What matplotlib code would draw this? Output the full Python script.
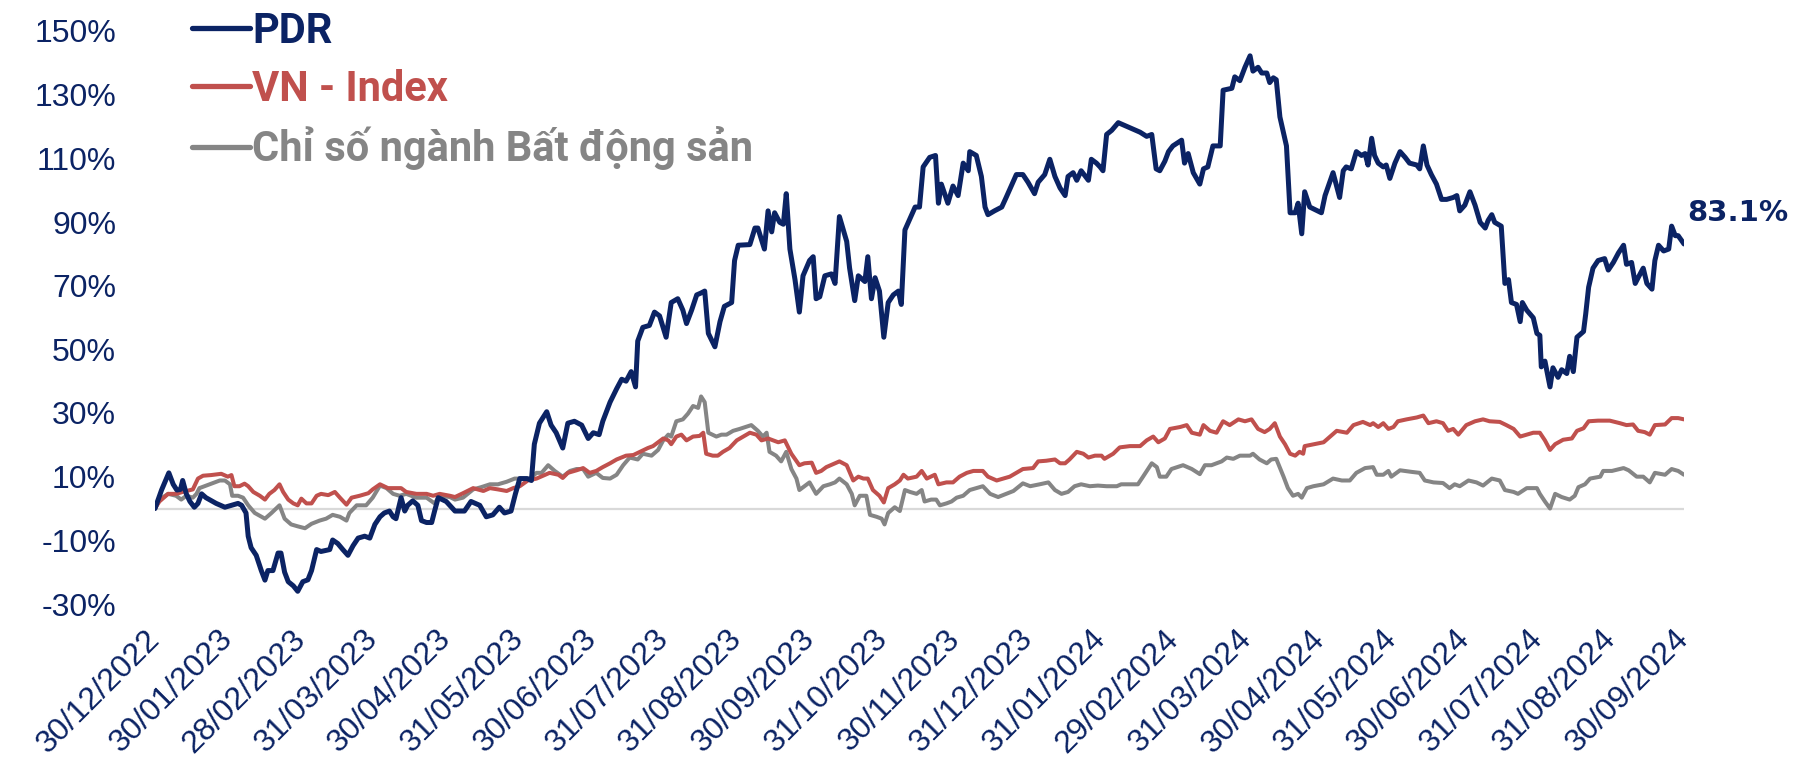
import matplotlib
matplotlib.use("Agg")
import matplotlib.pyplot as plt
from matplotlib.ticker import FixedLocator, FixedFormatter

plt.rcParams.update({
    "font.family": ["Liberation Sans", "DejaVu Sans"],
    "figure.dpi": 100,
})

# x = months elapsed since 30/12/2022, y = cumulative return (%)
month_labels = [
    "30/12/2022", "30/01/2023", "28/02/2023", "31/03/2023", "30/04/2023",
    "31/05/2023", "30/06/2023", "31/07/2023", "31/08/2023", "30/09/2023",
    "31/10/2023", "30/11/2023", "31/12/2023", "31/01/2024", "29/02/2024",
    "31/03/2024", "30/04/2024", "31/05/2024", "30/06/2024", "31/07/2024",
    "31/08/2024", "30/09/2024",
]
y_ticks = [-30, -10, 10, 30, 50, 70, 90, 110, 130, 150]

pdr_x = [
    0.00, 0.09, 0.19, 0.25, 0.30, 0.35, 0.38, 0.43, 0.48, 0.54, 0.59, 0.64, 0.70, 0.84, 0.96,
    1.05, 1.14, 1.19, 1.25, 1.28, 1.32, 1.39, 1.46, 1.51, 1.55, 1.62, 1.69, 1.73, 1.78, 1.83,
    1.90, 1.96, 2.03, 2.10, 2.15, 2.22, 2.28, 2.40, 2.44, 2.51, 2.58, 2.65, 2.72, 2.79, 2.88,
    2.95, 3.02, 3.09, 3.15, 3.22, 3.27, 3.31, 3.38, 3.43, 3.47, 3.54, 3.61, 3.66, 3.73, 3.80,
    3.84, 3.89, 4.00, 4.12, 4.25, 4.34, 4.46, 4.55, 4.64, 4.73, 4.80, 4.89, 4.95, 5.01, 5.11,
    5.17, 5.21, 5.28, 5.38, 5.44, 5.51, 5.60, 5.67, 5.76, 5.86, 5.95, 6.02, 6.10, 6.15, 6.25,
    6.34, 6.41, 6.47, 6.54, 6.60, 6.63, 6.70, 6.79, 6.86, 6.93, 7.02, 7.09, 7.18, 7.25, 7.30,
    7.37, 7.44, 7.50, 7.55, 7.60, 7.69, 7.76, 7.82, 7.92, 7.96, 8.01, 8.17, 8.24, 8.28, 8.37,
    8.42, 8.47, 8.51, 8.58, 8.63, 8.67, 8.72, 8.79, 8.85, 8.90, 8.99, 9.04, 9.08, 9.13, 9.20,
    9.29, 9.34, 9.40, 9.50, 9.54, 9.61, 9.66, 9.75, 9.79, 9.84, 9.89, 9.95, 10.01, 10.07, 10.14,
    10.21, 10.25, 10.30, 10.37, 10.44, 10.50, 10.55, 10.64, 10.72, 10.76, 10.80, 10.89, 10.96, 11.03, 11.10,
    11.17, 11.19, 11.28, 11.35, 11.40, 11.44, 11.53, 11.63, 11.69, 11.76, 11.83, 11.92, 11.99, 12.08, 12.13,
    12.22, 12.29, 12.36, 12.43, 12.50, 12.54, 12.61, 12.66, 12.72, 12.82, 12.86, 12.93, 12.98, 13.02, 13.07,
    13.14, 13.23, 13.53, 13.62, 13.69, 13.75, 13.80, 13.87, 13.92, 13.98, 14.10, 14.14, 14.19, 14.26, 14.35,
    14.40, 14.46, 14.53, 14.63, 14.67, 14.79, 14.83, 14.90, 14.97, 15.04, 15.08, 15.15, 15.20, 15.27, 15.31,
    15.36, 15.40, 15.45, 15.54, 15.59, 15.66, 15.70, 15.75, 15.79, 15.86, 16.02, 16.07, 16.18, 16.27, 16.32,
    16.36, 16.43, 16.50, 16.57, 16.62, 16.66, 16.71, 16.75, 16.80, 16.87, 16.91, 16.96, 17.03, 17.10, 17.17,
    17.23, 17.33, 17.37, 17.42, 17.47, 17.53, 17.60, 17.67, 17.74, 17.83, 17.88, 17.92, 17.99, 18.06, 18.13,
    18.20, 18.27, 18.31, 18.36, 18.40, 18.49, 18.54, 18.59, 18.63, 18.70, 18.75, 18.78, 18.84, 18.93, 18.98,
    19.02, 19.04, 19.09, 19.16, 19.20, 19.27, 19.32, 19.39, 19.43, 19.48, 19.53, 19.62, 19.65, 19.69, 19.75,
    19.82, 19.91, 19.96, 20.03, 20.10, 20.17, 20.21, 20.28, 20.33, 20.37, 20.44, 20.49, 20.56, 20.60, 20.65,
    20.72, 20.79, 20.83, 20.88, 20.92, 21.00,
]
pdr_y = [
    0.0, 5.8, 11.2, 7.6, 5.8, 6.0, 8.8, 4.6, 2.2, 0.4, 1.6, 4.6, 3.4, 1.6, 0.4,
    1.0, 1.6, 1.0, -1.4, -8.7, -12.3, -14.7, -19.5, -22.5, -19.5, -19.5, -14.0, -14.0, -20.0, -23.0,
    -24.3, -26.0, -23.0, -22.4, -19.5, -12.9, -13.5, -12.9, -9.9, -11.0, -12.9, -14.7, -11.7, -9.3, -8.7,
    -9.3, -5.0, -2.6, -1.4, -0.8, -2.6, -3.2, 3.4, -0.8, 1.0, 2.4, 1.0, -3.8, -4.4, -4.4,
    -0.8, 3.4, 2.2, -0.8, -0.8, 2.2, 1.0, -2.6, -2.0, 0.4, -1.4, -0.8, 4.6, 9.4, 9.4,
    8.8, 20.2, 26.8, 30.4, 26.2, 23.8, 19.0, 26.8, 27.4, 26.2, 22.0, 23.8, 23.2, 27.4, 33.4,
    37.6, 40.6, 40.0, 43.0, 38.2, 52.6, 56.9, 57.5, 61.7, 60.5, 53.8, 64.7, 65.9, 62.3, 58.1,
    62.3, 67.1, 67.7, 68.3, 55.0, 50.8, 58.7, 63.5, 64.7, 77.9, 82.7, 82.9, 88.1, 88.1, 81.5,
    93.5, 86.9, 92.9, 89.9, 89.3, 98.9, 81.5, 71.9, 61.7, 73.1, 77.9, 79.1, 65.9, 66.5, 73.1,
    73.7, 70.7, 91.7, 83.9, 75.5, 65.3, 73.1, 71.3, 79.1, 65.9, 72.5, 68.3, 53.8, 64.7, 67.1,
    68.3, 64.1, 87.5, 91.1, 94.7, 94.7, 107.3, 110.3, 110.9, 95.9, 101.9, 95.9, 101.3, 98.3, 108.5,
    106.1, 112.1, 110.9, 104.3, 94.7, 92.3, 93.5, 94.7, 97.7, 101.3, 104.9, 104.9, 102.5, 98.9, 102.5,
    104.9, 109.7, 104.3, 100.7, 98.3, 104.3, 105.5, 103.1, 106.1, 103.1, 109.7, 108.5, 107.3, 106.1, 117.5,
    118.8, 121.2, 118.2, 116.9, 117.5, 106.7, 106.1, 109.1, 112.1, 113.9, 115.7, 108.5, 111.5, 105.5, 101.9,
    106.7, 107.3, 113.9, 113.9, 131.4, 132.0, 135.6, 134.4, 138.6, 142.2, 137.4, 138.6, 136.8, 136.8, 133.8,
    135.3, 134.7, 123.0, 113.9, 92.9, 92.9, 95.9, 86.3, 99.5, 94.7, 92.9, 98.3, 105.5, 97.7, 106.1,
    107.3, 106.7, 112.1, 110.9, 111.5, 107.9, 116.3, 110.9, 108.5, 107.3, 107.9, 103.7, 108.5, 112.1, 110.3,
    108.5, 107.9, 106.7, 113.9, 107.9, 104.9, 101.9, 97.1, 97.1, 97.7, 98.3, 93.5, 95.3, 99.5, 95.3,
    89.9, 88.1, 90.5, 92.3, 89.9, 88.7, 70.7, 71.9, 64.7, 64.1, 58.7, 64.7, 62.3, 59.9, 55.0,
    54.4, 44.5, 46.3, 38.2, 44.2, 41.2, 43.6, 42.4, 47.8, 43.0, 53.8, 55.6, 61.1, 69.5, 75.5,
    77.9, 78.5, 74.9, 77.3, 80.3, 82.7, 76.7, 77.3, 70.7, 72.5, 75.5, 70.7, 68.9, 77.9, 82.7,
    80.9, 81.5, 88.7, 85.7, 85.7, 83.1,
]

vni_x = [
    0.00, 0.06, 0.18, 0.29, 0.38, 0.52, 0.59, 0.66, 0.77, 0.91, 1.00, 1.05, 1.09, 1.16, 1.23,
    1.28, 1.35, 1.44, 1.51, 1.57, 1.64, 1.71, 1.76, 1.83, 1.90, 1.96, 2.01, 2.08, 2.15, 2.22,
    2.28, 2.38, 2.47, 2.54, 2.63, 2.70, 2.81, 2.93, 2.99, 3.09, 3.20, 3.29, 3.38, 3.45, 3.59,
    3.73, 3.82, 3.91, 4.05, 4.12, 4.23, 4.37, 4.51, 4.60, 4.71, 4.83, 4.92, 5.01, 5.12, 5.24,
    5.33, 5.42, 5.54, 5.60, 5.67, 5.79, 5.88, 5.97, 6.06, 6.15, 6.25, 6.34, 6.47, 6.57, 6.66,
    6.77, 6.84, 6.91, 6.98, 7.05, 7.09, 7.16, 7.23, 7.30, 7.39, 7.48, 7.53, 7.57, 7.66, 7.73,
    7.80, 7.89, 7.99, 8.17, 8.26, 8.33, 8.42, 8.49, 8.56, 8.65, 8.74, 8.85, 8.92, 9.02, 9.08,
    9.15, 9.22, 9.34, 9.40, 9.50, 9.59, 9.66, 9.73, 9.79, 9.86, 9.95, 10.01, 10.07, 10.16, 10.23,
    10.28, 10.34, 10.46, 10.53, 10.60, 10.71, 10.76, 10.87, 10.96, 11.05, 11.15, 11.24, 11.37, 11.44, 11.56,
    11.65, 11.74, 11.83, 11.92, 12.06, 12.13, 12.24, 12.36, 12.43, 12.50, 12.56, 12.66, 12.75, 12.82, 12.91,
    13.00, 13.04, 13.16, 13.25, 13.39, 13.53, 13.62, 13.71, 13.78, 13.87, 13.94, 14.08, 14.17, 14.24, 14.35,
    14.40, 14.49, 14.58, 14.67, 14.76, 14.88, 14.97, 15.06, 15.15, 15.24, 15.31, 15.38, 15.45, 15.52, 15.59,
    15.66, 15.72, 15.77, 15.79, 16.05, 16.14, 16.23, 16.37, 16.46, 16.59, 16.69, 16.73, 16.80, 16.87, 16.94,
    17.01, 17.07, 17.19, 17.33, 17.42, 17.49, 17.60, 17.69, 17.76, 17.83, 17.90, 18.01, 18.13, 18.24, 18.33,
    18.47, 18.56, 18.66, 18.75, 18.84, 18.93, 19.02, 19.09, 19.16, 19.23, 19.34, 19.46, 19.53, 19.62, 19.69,
    19.82, 19.98, 20.12, 20.21, 20.30, 20.37, 20.46, 20.53, 20.60, 20.74, 20.83, 20.92, 21.00,
]
vni_y = [
    0.0, 2.2, 4.6, 4.6, 5.2, 6.0, 9.4, 10.3, 10.5, 10.9, 10.0, 10.5, 7.0, 7.0, 7.8,
    7.0, 5.2, 4.0, 2.8, 4.6, 5.8, 7.6, 5.2, 2.8, 1.6, 1.0, 3.1, 1.6, 1.6, 4.0,
    4.6, 4.2, 5.2, 3.4, 1.2, 3.4, 4.0, 4.8, 6.0, 7.6, 6.4, 6.4, 6.4, 5.2, 4.6,
    4.6, 4.0, 4.6, 4.0, 3.6, 4.8, 6.4, 5.5, 6.4, 6.0, 5.5, 6.4, 7.0, 8.8, 9.4,
    10.3, 11.2, 10.6, 9.6, 11.2, 12.0, 12.7, 11.2, 11.8, 13.0, 14.2, 15.4, 16.6, 16.8, 17.8,
    19.0, 19.6, 20.8, 22.0, 21.4, 20.2, 22.6, 23.2, 21.4, 22.6, 22.8, 23.8, 17.2, 16.6, 16.6,
    17.8, 19.0, 21.4, 23.8, 23.2, 21.4, 22.0, 21.4, 20.8, 21.4, 17.2, 13.6, 14.2, 14.4, 11.2,
    11.8, 13.0, 14.2, 14.8, 13.6, 8.8, 10.0, 9.4, 9.4, 5.8, 4.0, 1.9, 6.4, 7.6, 8.8,
    10.6, 9.4, 10.0, 11.8, 9.4, 10.6, 7.6, 8.2, 8.2, 10.0, 11.2, 11.8, 11.8, 10.0, 8.8,
    9.4, 10.0, 11.2, 12.4, 12.7, 14.8, 15.0, 15.4, 14.2, 14.2, 15.4, 17.8, 17.2, 16.0, 16.6,
    16.6, 15.6, 17.2, 19.2, 19.6, 19.6, 21.4, 22.6, 20.8, 22.0, 25.0, 25.6, 26.2, 23.8, 23.2,
    26.2, 24.4, 23.8, 27.4, 26.2, 28.0, 27.4, 28.0, 25.0, 24.0, 25.0, 26.8, 22.6, 20.2, 17.2,
    16.6, 17.8, 17.2, 19.6, 20.8, 22.6, 24.4, 23.8, 26.2, 27.2, 26.2, 26.8, 25.6, 26.8, 25.0,
    25.6, 27.4, 28.0, 28.6, 29.2, 26.8, 27.4, 26.8, 24.4, 25.0, 23.2, 26.2, 27.4, 28.0, 27.4,
    27.2, 26.2, 25.0, 22.6, 23.2, 23.8, 23.8, 21.4, 18.4, 20.2, 21.6, 22.0, 24.4, 25.2, 27.4,
    27.6, 27.6, 26.8, 26.2, 26.4, 24.4, 24.0, 23.2, 26.2, 26.4, 28.4, 28.4, 28.0,
]

bds_x = [
    0.00, 0.06, 0.18, 0.29, 0.36, 0.43, 0.52, 0.57, 0.61, 0.75, 0.89, 0.96, 1.03, 1.06, 1.14,
    1.21, 1.28, 1.37, 1.51, 1.60, 1.71, 1.78, 1.87, 1.96, 2.06, 2.15, 2.26, 2.35, 2.44, 2.54,
    2.63, 2.67, 2.77, 2.90, 2.99, 3.09, 3.18, 3.27, 3.36, 3.45, 3.59, 3.73, 3.84, 3.91, 4.05,
    4.12, 4.23, 4.37, 4.48, 4.60, 4.71, 4.83, 4.94, 5.05, 5.15, 5.24, 5.31, 5.40, 5.49, 5.60,
    5.70, 5.79, 5.88, 5.95, 6.06, 6.15, 6.25, 6.34, 6.43, 6.52, 6.63, 6.70, 6.82, 6.91, 6.98,
    7.05, 7.09, 7.16, 7.25, 7.32, 7.39, 7.46, 7.50, 7.55, 7.60, 7.71, 7.78, 7.85, 7.94, 8.03,
    8.19, 8.28, 8.35, 8.40, 8.44, 8.53, 8.60, 8.67, 8.74, 8.81, 8.85, 8.92, 8.99, 9.08, 9.18,
    9.27, 9.34, 9.40, 9.50, 9.57, 9.61, 9.68, 9.77, 9.82, 9.91, 9.98, 10.02, 10.07, 10.16, 10.23,
    10.30, 10.37, 10.46, 10.53, 10.57, 10.66, 10.73, 10.78, 10.87, 10.94, 11.01, 11.10, 11.19, 11.28, 11.37,
    11.47, 11.58, 11.69, 11.79, 11.92, 12.02, 12.15, 12.27, 12.36, 12.45, 12.54, 12.63, 12.72, 12.84, 12.95,
    13.07, 13.21, 13.27, 13.50, 13.57, 13.69, 13.76, 13.80, 13.89, 13.96, 14.12, 14.24, 14.35, 14.42, 14.51,
    14.65, 14.72, 14.81, 14.90, 15.04, 15.08, 15.17, 15.27, 15.33, 15.40, 15.50, 15.56, 15.63, 15.70, 15.75,
    15.82, 15.91, 16.05, 16.18, 16.30, 16.41, 16.50, 16.62, 16.73, 16.78, 16.87, 16.94, 16.98, 17.10, 17.26,
    17.37, 17.44, 17.56, 17.69, 17.78, 17.85, 17.92, 18.04, 18.15, 18.24, 18.36, 18.47, 18.54, 18.66, 18.72,
    18.84, 18.98, 19.02, 19.09, 19.16, 19.23, 19.32, 19.43, 19.50, 19.55, 19.64, 19.71, 19.85, 19.89, 20.01,
    20.17, 20.24, 20.35, 20.44, 20.53, 20.60, 20.74, 20.83, 20.92, 21.00,
]
bds_y = [
    0.0, 2.8, 4.6, 4.0, 2.8, 4.0, 3.4, 4.6, 6.4, 7.6, 8.8, 8.8, 7.6, 4.0, 4.0,
    3.4, 1.0, -1.4, -3.2, -1.4, 1.0, -3.2, -5.0, -5.6, -6.2, -4.8, -3.8, -3.2, -2.0, -2.6,
    -3.8, -1.4, 1.0, 1.0, 3.4, 7.2, 6.4, 4.6, 4.0, 4.6, 3.4, 3.4, 1.6, 4.0, 3.6,
    2.8, 3.4, 6.0, 6.7, 7.6, 7.6, 8.4, 9.4, 9.4, 9.4, 11.2, 11.2, 13.6, 11.8, 10.0,
    11.8, 12.4, 12.4, 10.0, 11.2, 9.6, 9.4, 10.6, 13.6, 16.0, 15.4, 17.2, 16.6, 18.4, 21.4,
    23.2, 22.6, 27.4, 28.0, 29.8, 32.2, 31.6, 35.2, 33.4, 23.8, 22.6, 23.2, 23.2, 24.4, 25.0,
    26.2, 24.4, 22.6, 23.8, 17.8, 16.6, 14.8, 17.8, 12.4, 9.4, 5.8, 7.0, 8.2, 4.6, 7.0,
    7.6, 8.2, 9.4, 7.6, 4.6, 1.0, 4.0, 4.0, -2.0, -2.6, -3.2, -5.0, -1.4, 0.4, -0.8,
    5.8, 5.2, 4.6, 5.8, 2.2, 2.8, 2.8, 1.0, 1.6, 2.2, 3.4, 4.0, 5.8, 6.4, 7.0,
    4.6, 3.6, 4.6, 5.5, 7.9, 7.0, 7.6, 8.2, 5.8, 4.6, 5.2, 7.0, 7.6, 7.0, 7.2,
    7.0, 7.0, 7.6, 7.6, 10.0, 14.2, 13.0, 10.0, 10.0, 12.4, 13.6, 12.4, 10.8, 13.6, 13.6,
    14.8, 16.0, 15.6, 16.6, 16.6, 17.2, 15.4, 14.2, 15.4, 15.6, 10.0, 6.4, 4.0, 4.6, 3.4,
    6.4, 7.0, 7.6, 9.4, 8.8, 8.8, 11.2, 12.7, 13.0, 10.6, 10.6, 11.8, 10.0, 12.0, 11.5,
    11.2, 8.8, 8.2, 8.0, 6.4, 7.6, 7.0, 8.8, 8.2, 7.2, 9.4, 8.8, 5.8, 5.2, 4.6,
    6.4, 6.4, 4.6, 2.2, 0.0, 4.6, 3.6, 2.8, 4.0, 6.7, 7.6, 9.4, 10.0, 11.8, 11.8,
    12.7, 12.0, 10.0, 10.0, 8.2, 11.2, 10.6, 12.4, 11.8, 10.6,
]

navy = "#0B2364"
red = "#C0504D"
grey = "#858585"

fig = plt.figure(figsize=(18.05, 7.62), dpi=100)
ax = fig.add_axes([155 / 1805, 158 / 762, 1529 / 1805, 573 / 762])

ax.axhline(0, color="#D9D9D9", lw=1.6, zorder=1)
ax.plot(bds_x, bds_y, color=grey, lw=2.9, label="Chỉ số ngành Bất động sản",
        solid_joinstyle="round", solid_capstyle="round", zorder=2)
ax.plot(vni_x, vni_y, color=red, lw=2.9, label="VN - Index",
        solid_joinstyle="round", solid_capstyle="round", zorder=3)
ax.plot(pdr_x, pdr_y, color=navy, lw=3.6, label="PDR",
        solid_joinstyle="round", solid_capstyle="round", zorder=4)

ax.set_xlim(0, len(month_labels) - 1)
ax.set_ylim(-30, 150)

ax.xaxis.set_major_locator(FixedLocator(range(len(month_labels))))
ax.xaxis.set_major_formatter(FixedFormatter(month_labels))
ax.yaxis.set_major_locator(FixedLocator(y_ticks))
ax.yaxis.set_major_formatter(FixedFormatter([f"{v}%" for v in y_ticks]))

ax.tick_params(axis="y", length=0, pad=28, labelsize=23, labelcolor=navy)
ax.tick_params(axis="x", length=0, pad=22, labelsize=23, labelcolor=navy)
for lab in ax.get_xticklabels():
    lab.set_rotation(45)
    lab.set_ha("right")
    lab.set_va("center")
    lab.set_rotation_mode("anchor")

for s in ax.spines.values():
    s.set_visible(False)

handles, labels = ax.get_legend_handles_labels()
leg = ax.legend(handles[::-1], labels[::-1], loc="upper left",
                bbox_to_anchor=(192 / 1805, 1 - 11 / 762), bbox_transform=fig.transFigure,
                frameon=False, handlelength=1.4, handletextpad=0.05, labelspacing=0.4,
                borderpad=0, borderaxespad=0,
                prop={"family": "Roboto", "weight": "bold", "size": 30})
for txt, line in zip(leg.get_texts(), leg.get_lines()):
    txt.set_color(line.get_color())
    line.set_linewidth(3.8)

ax.annotate(f"{pdr_y[-1]:.1f}%", xy=(pdr_x[-1], pdr_y[-1]), xytext=(2, 22),
            textcoords="offset points", ha="left", va="center",
            fontsize=21, fontweight="bold", color=navy, family="DejaVu Sans",
            annotation_clip=False)

fig.savefig("out.png", dpi=100)
